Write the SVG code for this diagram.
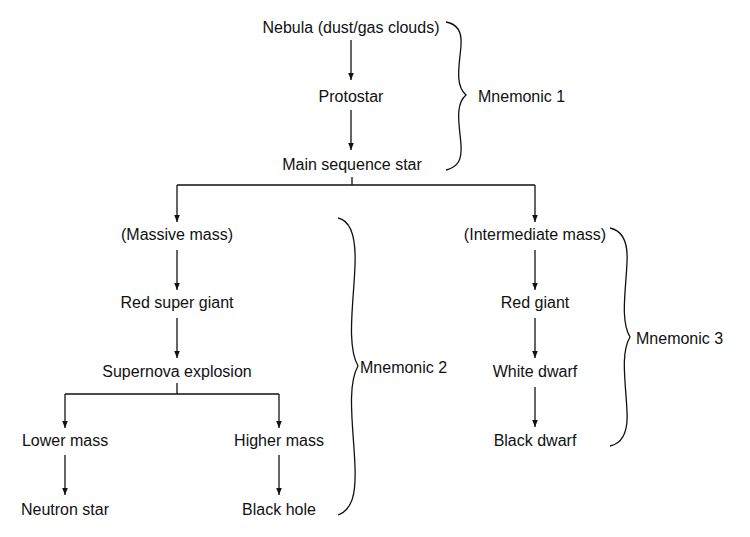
<svg xmlns="http://www.w3.org/2000/svg" width="750" height="537" viewBox="0 0 750 537">
<style>
text{font-family:"Liberation Sans",Arial,sans-serif;font-size:16px;fill:#111;text-anchor:middle}
.l{text-anchor:start}
.c{fill:none;stroke:#111;stroke-width:1.3}
</style>
<defs><marker id="a" viewBox="0 0 10 10" refX="10" refY="5" markerWidth="7" markerHeight="10" markerUnits="userSpaceOnUse" orient="auto"><path d="M0,1 L10,5 L0,9 Z" fill="#111"/></marker></defs>
<rect width="750" height="537" fill="#fff"/>
<g id="connectors" class="c">
<path d="M351,40 V80" marker-end="url(#a)"/>
<path d="M351,110 V150" marker-end="url(#a)"/>
<path d="M352,177 V185 M177,185 H535"/>
<path d="M177,185 V222" marker-end="url(#a)"/>
<path d="M535,185 V222" marker-end="url(#a)"/>
<path d="M177,250 V290" marker-end="url(#a)"/>
<path d="M177,318 V358" marker-end="url(#a)"/>
<path d="M177,383 V394 M65,394 H279"/>
<path d="M65,394 V428" marker-end="url(#a)"/>
<path d="M279,394 V428" marker-end="url(#a)"/>
<path d="M65,455 V495" marker-end="url(#a)"/>
<path d="M279,455 V495" marker-end="url(#a)"/>
<path d="M535,250 V290" marker-end="url(#a)"/>
<path d="M535,318 V358" marker-end="url(#a)"/>
<path d="M535,387 V427" marker-end="url(#a)"/>
<path d="M446,22 C458,24 462,32 461,45 C460,62 454,85 466,95 C454,105 460,128 461,145 C462,160 458,167 446,170"/>
<path d="M338,218 C352,221 356,240 355,265 C354,300 346,345 358,366 C346,387 354,432 355,467 C356,495 352,510 338,515"/>
<path d="M610,228 C624,231 628,245 627,262 C626,290 620,320 630,337 C620,354 626,384 627,412 C628,430 624,443 610,446"/>
</g>
<g id="n1"><text x="351" y="33">Nebula (dust/gas clouds)</text></g>
<g id="n2"><text x="351" y="102">Protostar</text></g>
<g id="n3"><text x="352" y="170">Main sequence star</text></g>
<g id="n4"><text x="177" y="240">(Massive mass)</text></g>
<g id="n5"><text x="177" y="308">Red super giant</text></g>
<g id="n6"><text x="177" y="377">Supernova explosion</text></g>
<g id="n7"><text x="65" y="446">Lower mass</text></g>
<g id="n8"><text x="279" y="446">Higher mass</text></g>
<g id="n9"><text x="65" y="515">Neutron star</text></g>
<g id="n10"><text x="279" y="515">Black hole</text></g>
<g id="n11"><text x="535" y="240">(Intermediate mass)</text></g>
<g id="n12"><text x="535" y="308">Red giant</text></g>
<g id="n13"><text x="535" y="377">White dwarf</text></g>
<g id="n14"><text x="535" y="446">Black dwarf</text></g>
<g id="m1"><text class="l" x="478" y="102">Mnemonic 1</text></g>
<g id="m2"><text class="l" x="360" y="373">Mnemonic 2</text></g>
<g id="m3"><text class="l" x="636" y="344">Mnemonic 3</text></g>
</svg>
